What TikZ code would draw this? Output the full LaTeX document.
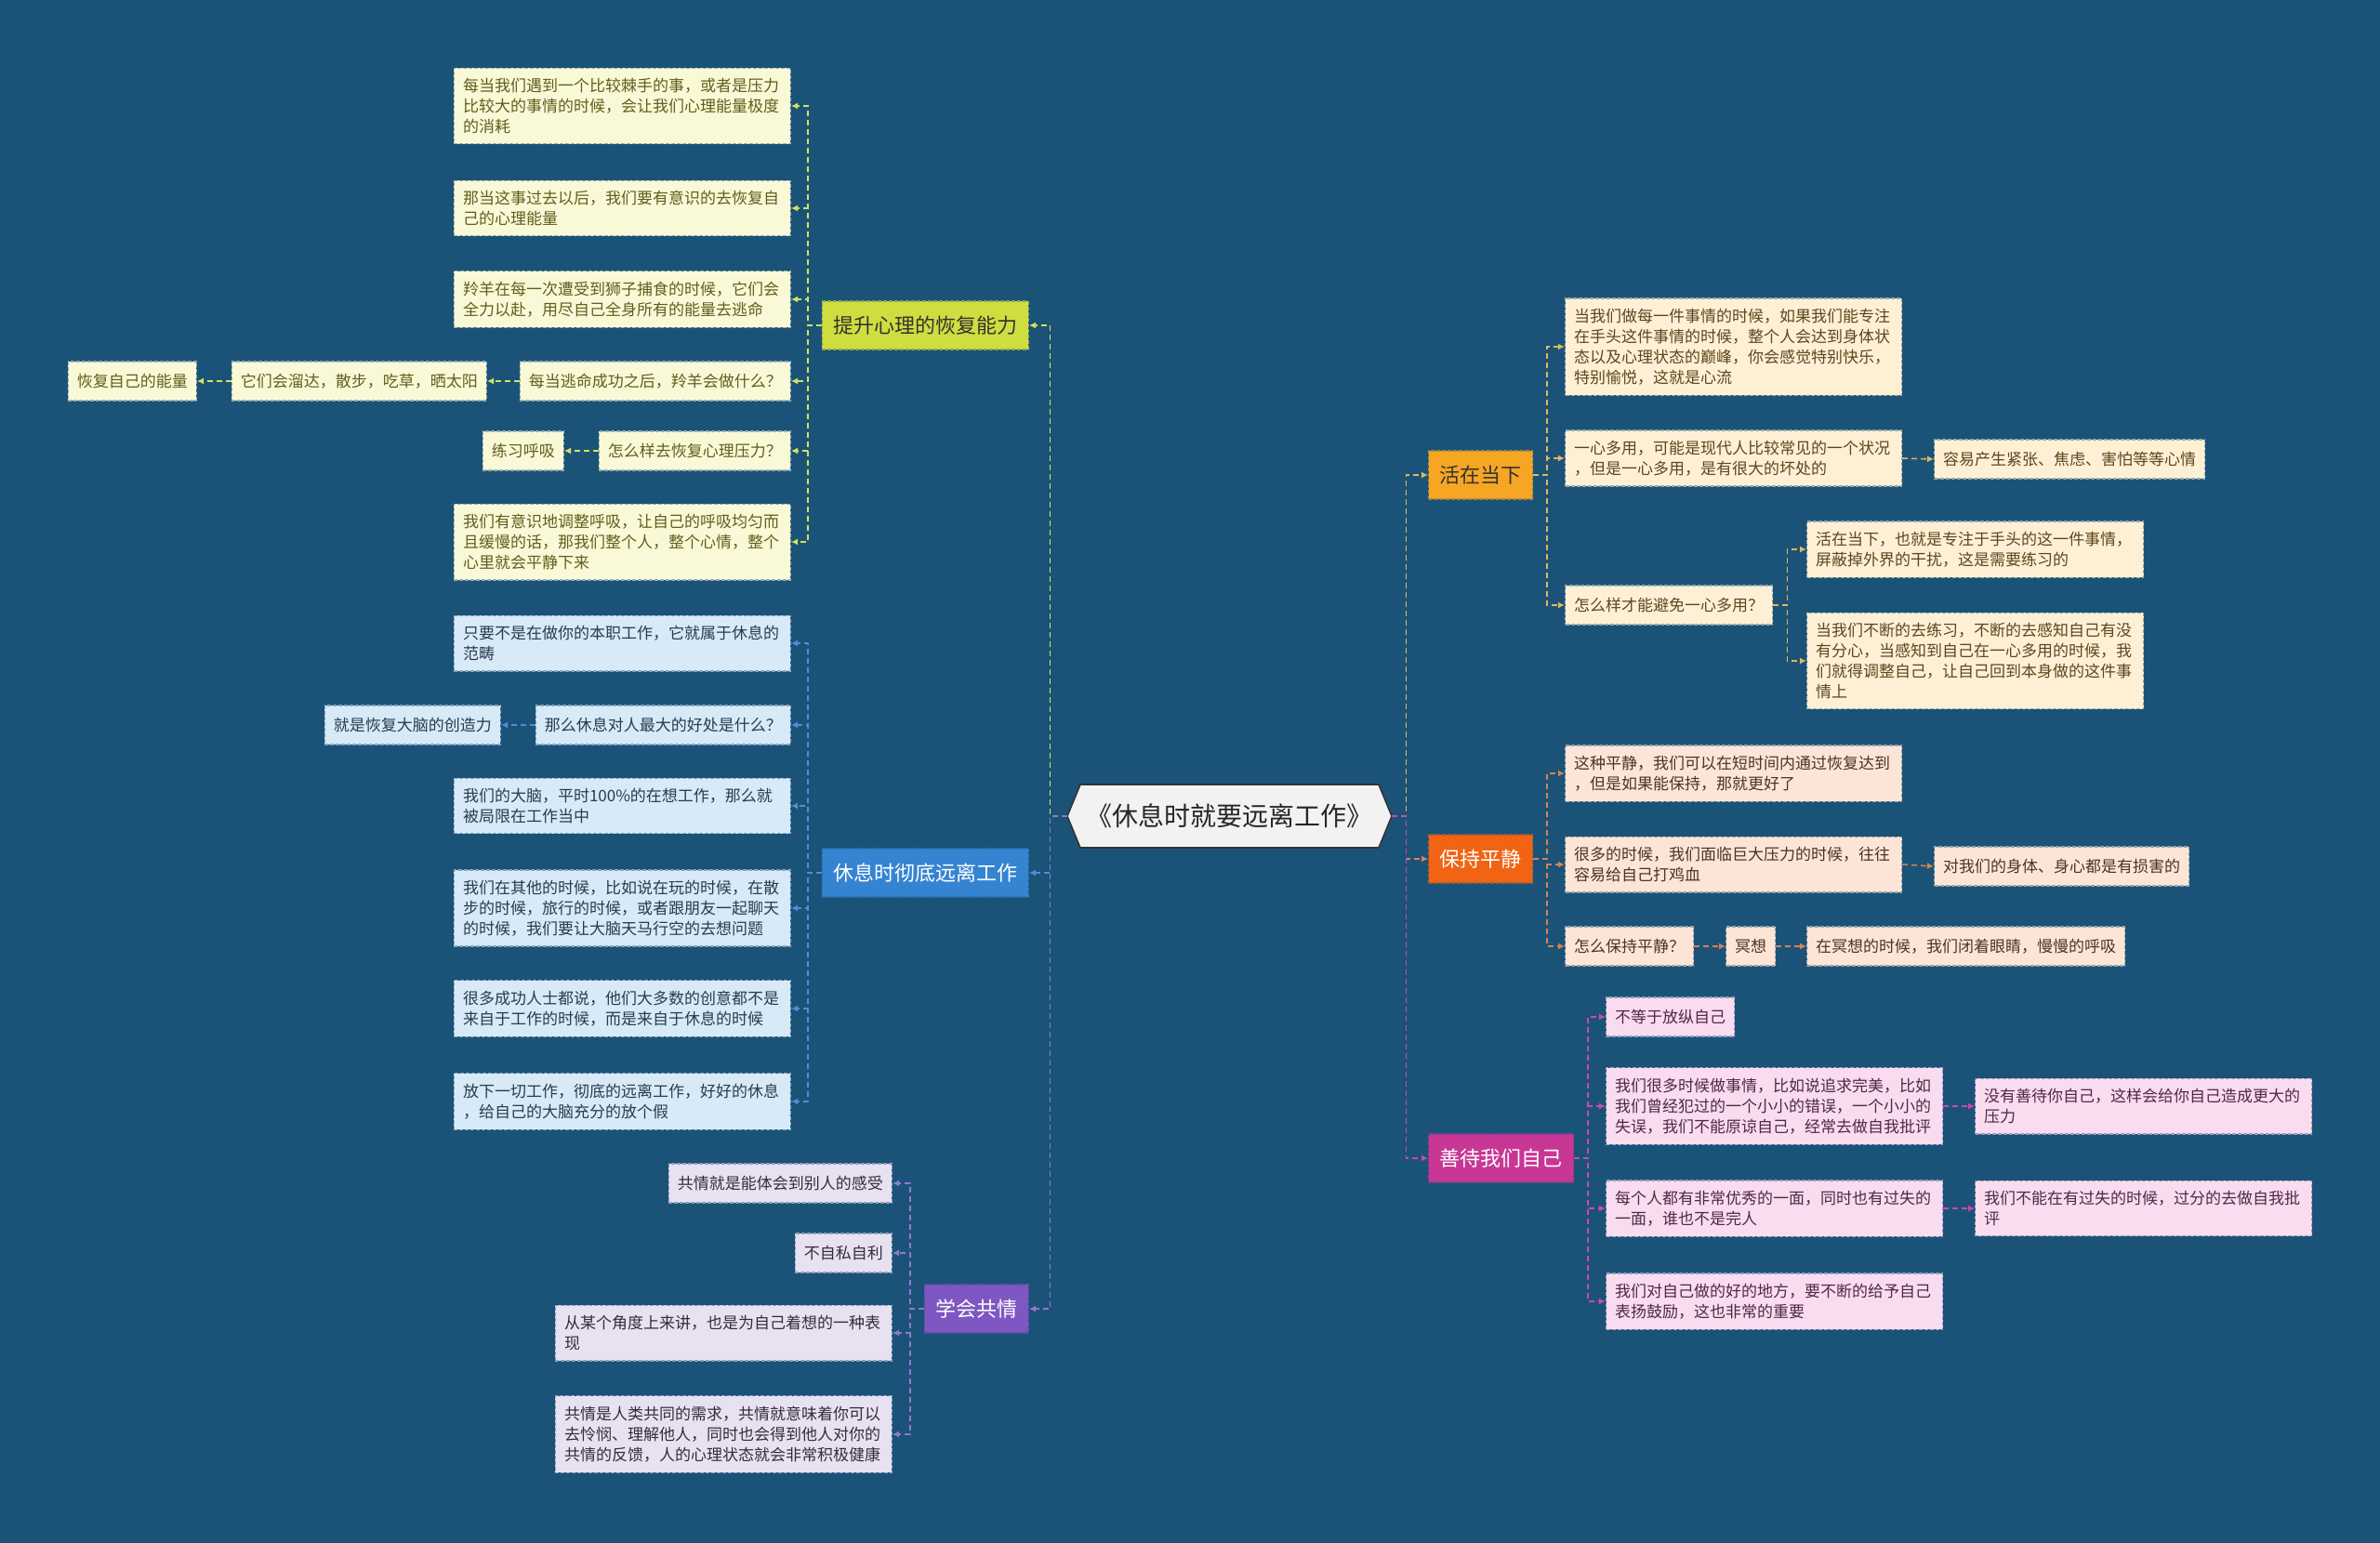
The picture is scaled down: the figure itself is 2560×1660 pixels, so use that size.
\documentclass[tikz,border=0pt]{standalone}
\usepackage{fontspec}
\setmainfont{Noto Sans CJK SC}[Kerning=Off]
\usetikzlibrary{arrows.meta}
\setlength{\parindent}{0pt}

\definecolor{fondo}{RGB}{27,83,120}
\definecolor{raiz}{RGB}{242,242,242}
% ramas
\definecolor{ramaA}{RGB}{208,221,62}
\definecolor{ramaB}{RGB}{53,132,210}
\definecolor{ramaC}{RGB}{126,87,194}
\definecolor{ramaD}{RGB}{247,166,35}
\definecolor{ramaE}{RGB}{240,100,20}
\definecolor{ramaF}{RGB}{200,55,150}
% hojas
\definecolor{hojaA}{RGB}{250,249,215}
\definecolor{hojaB}{RGB}{216,233,247}
\definecolor{hojaC}{RGB}{231,225,242}
\definecolor{hojaD}{RGB}{253,240,213}
\definecolor{hojaE}{RGB}{252,229,215}
\definecolor{hojaF}{RGB}{249,220,239}
% textos
\definecolor{textoA}{RGB}{95,95,30}
\definecolor{textoB}{RGB}{40,60,80}
\definecolor{textoC}{RGB}{50,45,60}
\definecolor{textoD}{RGB}{95,70,30}
\definecolor{textoE}{RGB}{80,50,35}
\definecolor{textoF}{RGB}{80,40,70}
% lineas
\definecolor{lineaA}{RGB}{214,226,90}
\definecolor{lineaB}{RGB}{74,144,217}
\definecolor{lineaC}{RGB}{150,118,206}
\definecolor{lineaD}{RGB}{226,182,95}
\definecolor{lineaE}{RGB}{214,130,82}
\definecolor{lineaF}{RGB}{205,72,172}

\tikzset{
  hoja/.style={font=\fontsize{8.5pt}{11pt}\selectfont, inner xsep=4.8pt, inner ysep=5.5pt,
    minimum height=21pt, align=left, line width=0.6pt, dash pattern=on 2pt off 1pt,
    fill=#1, draw=#1!55!fondo},
  ancha/.style={text width=171.4pt},
  rama/.style={font=\fontsize{11pt}{13pt}\selectfont, inner xsep=6pt, minimum height=26pt,
    line width=0.6pt, dash pattern=on 2pt off 1pt, fill=#1, draw=#1!60!fondo},
  enlace/.style={line width=0.8pt, dash pattern=on 3pt off 2pt, draw=#1,
    -{Latex[length=3.5pt,width=3.5pt]}, #1}
}

\begin{document}
\begin{tikzpicture}[x=0.5pt,y=-0.5pt]
    % Fondo
    \fill[fondo] (0,0) rectangle (2560,1660);

    % Nodo central
    \filldraw[fill=raiz, draw=black!80, line width=0.8pt]
        (1148,878) -- (1162,844) -- (1483,844) -- (1497,878) -- (1483,912) -- (1162,912) -- cycle;
    \node (root) at (1322.5,878) [minimum width=174.5pt, minimum height=34pt,
        font=\fontsize{14pt}{16pt}\selectfont, text=black!85] {《休息时就要远离工作》};

    % Ramas
    \node[rama=ramaA, text=black!80, anchor=east] (B1) at (1107,350) {提升心理的恢复能力};
    \node[rama=ramaB, text=white, anchor=east] (B2) at (1107,939) {休息时彻底远离工作};
    \node[rama=ramaC, text=white, anchor=east] (B3) at (1107,1408) {学会共情};
    \node[rama=ramaD, text=black!80, anchor=west] (B4) at (1536,511) {活在当下};
    \node[rama=ramaE, text=white, anchor=west] (B5) at (1536,924) {保持平静};
    \node[rama=ramaF, text=white, anchor=west] (B6) at (1536,1246) {善待我们自己};

    % Hojas de la rama A
    \node[hoja=hojaA, ancha, text=textoA, anchor=east] (a1) at (851,114)
        {每当我们遇到一个比较棘手的事，或者是压力\\比较大的事情的时候，会让我们心理能量极度\\的消耗};
    \node[hoja=hojaA, ancha, text=textoA, anchor=east] (a2) at (851,224)
        {那当这事过去以后，我们要有意识的去恢复自\\己的心理能量};
    \node[hoja=hojaA, ancha, text=textoA, anchor=east] (a3) at (851,322)
        {羚羊在每一次遭受到狮子捕食的时候，它们会\\全力以赴，用尽自己全身所有的能量去逃命};
    \node[hoja=hojaA, text=textoA, anchor=east] (a4) at (851,410) {每当逃命成功之后，羚羊会做什么？};
    \node[hoja=hojaA, text=textoA, anchor=east] (a4a) at (524,410) {它们会溜达，散步，吃草，晒太阳};
    \node[hoja=hojaA, text=textoA, anchor=east] (a4b) at (212,410) {恢复自己的能量};
    \node[hoja=hojaA, text=textoA, anchor=east] (a5) at (851,485) {怎么样去恢复心理压力？};
    \node[hoja=hojaA, text=textoA, anchor=east] (a5a) at (607,485) {练习呼吸};
    \node[hoja=hojaA, ancha, text=textoA, anchor=east] (a6) at (851,583)
        {我们有意识地调整呼吸，让自己的呼吸均匀而\\且缓慢的话，那我们整个人，整个心情，整个\\心里就会平静下来};

    % Hojas de la rama B
    \node[hoja=hojaB, ancha, text=textoB, anchor=east] (b1) at (851,692)
        {只要不是在做你的本职工作，它就属于休息的\\范畴};
    \node[hoja=hojaB, text=textoB, anchor=east] (b2) at (851,780) {那么休息对人最大的好处是什么？};
    \node[hoja=hojaB, text=textoB, anchor=east] (b2a) at (539,780) {就是恢复大脑的创造力};
    \node[hoja=hojaB, ancha, text=textoB, anchor=east] (b3) at (851,867)
        {我们的大脑，平时100\%的在想工作，那么就\\被局限在工作当中};
    \node[hoja=hojaB, ancha, text=textoB, anchor=east] (b4) at (851,977)
        {我们在其他的时候，比如说在玩的时候，在散\\步的时候，旅行的时候，或者跟朋友一起聊天\\的时候，我们要让大脑天马行空的去想问题};
    \node[hoja=hojaB, ancha, text=textoB, anchor=east] (b5) at (851,1085)
        {很多成功人士都说，他们大多数的创意都不是\\来自于工作的时候，而是来自于休息的时候};
    \node[hoja=hojaB, ancha, text=textoB, anchor=east] (b6) at (851,1185)
        {放下一切工作，彻底的远离工作，好好的休息\\，给自己的大脑充分的放个假};

    % Hojas de la rama C
    \node[hoja=hojaC, text=textoC, anchor=east] (c1) at (960,1273) {共情就是能体会到别人的感受};
    \node[hoja=hojaC, text=textoC, anchor=east] (c2) at (960,1348) {不自私自利};
    \node[hoja=hojaC, ancha, text=textoC, anchor=east] (c3) at (960,1434)
        {从某个角度上来讲，也是为自己着想的一种表\\现};
    \node[hoja=hojaC, ancha, text=textoC, anchor=east] (c4) at (960,1543)
        {共情是人类共同的需求，共情就意味着你可以\\去怜悯、理解他人，同时也会得到他人对你的\\共情的反馈，人的心理状态就会非常积极健康};

    % Hojas de la rama D
    \node[hoja=hojaD, ancha, text=textoD, anchor=west] (d1) at (1683,373)
        {当我们做每一件事情的时候，如果我们能专注\\在手头这件事情的时候，整个人会达到身体状\\态以及心理状态的巅峰，你会感觉特别快乐，\\特别愉悦，这就是心流};
    \node[hoja=hojaD, ancha, text=textoD, anchor=west] (d2) at (1683,493)
        {一心多用，可能是现代人比较常见的一个状况\\，但是一心多用，是有很大的坏处的};
    \node[hoja=hojaD, text=textoD, anchor=west] (d2a) at (2080,494) {容易产生紧张、焦虑、害怕等等心情};
    \node[hoja=hojaD, text=textoD, anchor=west] (d3) at (1683,651) {怎么样才能避免一心多用？};
    \node[hoja=hojaD, ancha, text=textoD, anchor=west] (d3a) at (1943,591)
        {活在当下，也就是专注于手头的这一件事情，\\屏蔽掉外界的干扰，这是需要练习的};
    \node[hoja=hojaD, ancha, text=textoD, anchor=west] (d3b) at (1943,711)
        {当我们不断的去练习，不断的去感知自己有没\\有分心，当感知到自己在一心多用的时候，我\\们就得调整自己，让自己回到本身做的这件事\\情上};

    % Hojas de la rama E
    \node[hoja=hojaE, ancha, text=textoE, anchor=west] (e1) at (1683,832)
        {这种平静，我们可以在短时间内通过恢复达到\\，但是如果能保持，那就更好了};
    \node[hoja=hojaE, ancha, text=textoE, anchor=west] (e2) at (1683,930)
        {很多的时候，我们面临巨大压力的时候，往往\\容易给自己打鸡血};
    \node[hoja=hojaE, text=textoE, anchor=west] (e2a) at (2080,932) {对我们的身体、身心都是有损害的};
    \node[hoja=hojaE, text=textoE, anchor=west] (e3) at (1683,1018) {怎么保持平静？};
    \node[hoja=hojaE, text=textoE, anchor=west] (e3a) at (1856,1018) {冥想};
    \node[hoja=hojaE, text=textoE, anchor=west] (e3b) at (1943,1018) {在冥想的时候，我们闭着眼睛，慢慢的呼吸};

    % Hojas de la rama F
    \node[hoja=hojaF, text=textoF, anchor=west] (f1) at (1727,1094) {不等于放纵自己};
    \node[hoja=hojaF, ancha, text=textoF, anchor=west] (f2) at (1727,1190)
        {我们很多时候做事情，比如说追求完美，比如\\我们曾经犯过的一个小小的错误，一个小小的\\失误，我们不能原谅自己，经常去做自我批评};
    \node[hoja=hojaF, ancha, text=textoF, anchor=west] (f2a) at (2124,1190)
        {没有善待你自己，这样会给你自己造成更大的\\压力};
    \node[hoja=hojaF, ancha, text=textoF, anchor=west] (f3) at (1727,1300)
        {每个人都有非常优秀的一面，同时也有过失的\\一面，谁也不是完人};
    \node[hoja=hojaF, ancha, text=textoF, anchor=west] (f3a) at (2124,1300)
        {我们不能在有过失的时候，过分的去做自我批\\评};
    \node[hoja=hojaF, ancha, text=textoF, anchor=west] (f4) at (1727,1400)
        {我们对自己做的好的地方，要不断的给予自己\\表扬鼓励，这也非常的重要};

    % Conectores de la raiz
    \draw[enlace=lineaA] (root.west) -- ++(-18,0) |- (B1.east);
    \draw[enlace=lineaB] (root.west) -- ++(-18,0) |- (B2.east);
    \draw[enlace=lineaC] (root.west) -- ++(-18,0) |- (B3.east);
    \draw[enlace=lineaD] (root.east) -- ++(15,0) |- (B4.west);
    \draw[enlace=lineaE] (root.east) -- ++(15,0) |- (B5.west);
    \draw[enlace=lineaF] (root.east) -- ++(15,0) |- (B6.west);

    % Conectores rama A
    \draw[enlace=lineaA] (B1.west) -- ++(-15,0) |- (a1.east);
    \draw[enlace=lineaA] (B1.west) -- ++(-15,0) |- (a2.east);
    \draw[enlace=lineaA] (B1.west) -- ++(-15,0) |- (a3.east);
    \draw[enlace=lineaA] (B1.west) -- ++(-15,0) |- (a4.east);
    \draw[enlace=lineaA] (B1.west) -- ++(-15,0) |- (a5.east);
    \draw[enlace=lineaA] (B1.west) -- ++(-15,0) |- (a6.east);
    \draw[enlace=lineaA] (a4.west) -- (a4a.east);
    \draw[enlace=lineaA] (a4a.west) -- (a4b.east);
    \draw[enlace=lineaA] (a5.west) -- (a5a.east);

    % Conectores rama B
    \draw[enlace=lineaB] (B2.west) -- ++(-15,0) |- (b1.east);
    \draw[enlace=lineaB] (B2.west) -- ++(-15,0) |- (b2.east);
    \draw[enlace=lineaB] (B2.west) -- ++(-15,0) |- (b3.east);
    \draw[enlace=lineaB] (B2.west) -- ++(-15,0) |- (b4.east);
    \draw[enlace=lineaB] (B2.west) -- ++(-15,0) |- (b5.east);
    \draw[enlace=lineaB] (B2.west) -- ++(-15,0) |- (b6.east);
    \draw[enlace=lineaB] (b2.west) -- (b2a.east);

    % Conectores rama C
    \draw[enlace=lineaC] (B3.west) -- ++(-15,0) |- (c1.east);
    \draw[enlace=lineaC] (B3.west) -- ++(-15,0) |- (c2.east);
    \draw[enlace=lineaC] (B3.west) -- ++(-15,0) |- (c3.east);
    \draw[enlace=lineaC] (B3.west) -- ++(-15,0) |- (c4.east);

    % Conectores rama D
    \draw[enlace=lineaD] (B4.east) -- ++(15,0) |- (d1.west);
    \draw[enlace=lineaD] (B4.east) -- ++(15,0) |- (d2.west);
    \draw[enlace=lineaD] (B4.east) -- ++(15,0) |- (d3.west);
    \draw[enlace=lineaD] (d2.east) -- (d2a.west);
    \draw[enlace=lineaD] (d3.east) -- ++(15,0) |- (d3a.west);
    \draw[enlace=lineaD] (d3.east) -- ++(15,0) |- (d3b.west);

    % Conectores rama E
    \draw[enlace=lineaE] (B5.east) -- ++(15,0) |- (e1.west);
    \draw[enlace=lineaE] (B5.east) -- ++(15,0) |- (e2.west);
    \draw[enlace=lineaE] (B5.east) -- ++(15,0) |- (e3.west);
    \draw[enlace=lineaE] (e2.east) -- (e2a.west);
    \draw[enlace=lineaE] (e3.east) -- (e3a.west);
    \draw[enlace=lineaE] (e3a.east) -- (e3b.west);

    % Conectores rama F
    \draw[enlace=lineaF] (B6.east) -- ++(15,0) |- (f1.west);
    \draw[enlace=lineaF] (B6.east) -- ++(15,0) |- (f2.west);
    \draw[enlace=lineaF] (B6.east) -- ++(15,0) |- (f3.west);
    \draw[enlace=lineaF] (B6.east) -- ++(15,0) |- (f4.west);
    \draw[enlace=lineaF] (f2.east) -- (f2a.west);
    \draw[enlace=lineaF] (f3.east) -- (f3a.west);
\end{tikzpicture}
\end{document}
